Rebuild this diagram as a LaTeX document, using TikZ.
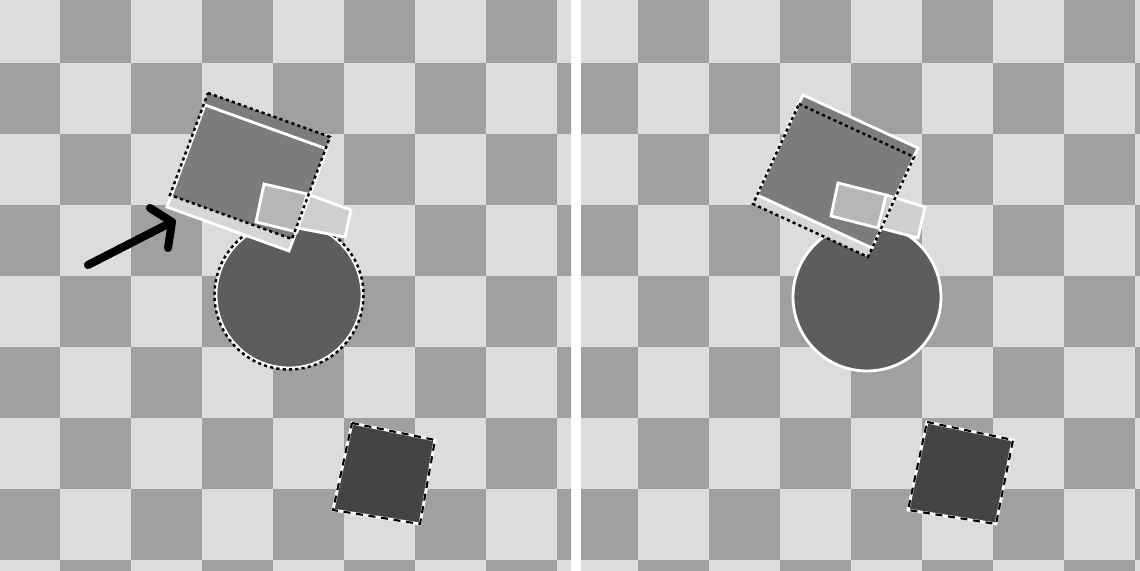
\documentclass[tikz,border=0pt]{standalone}
\usepackage{xcolor}
\usepackage{tikz}

\definecolor{lightsq}{HTML}{DCDCDC}
\definecolor{darksq}{HTML}{A0A0A0}
\definecolor{boxgray}{HTML}{7C7C7C}
\definecolor{ballgray}{HTML}{5D5D5D}
\definecolor{tilegray}{HTML}{444444}
\definecolor{patchgray}{HTML}{B6B6B6}
\definecolor{palegray}{HTML}{CFCFCF}
\definecolor{stripgray}{HTML}{D6D6D6}

\begin{document}
\begin{tikzpicture}[x=0.01cm, y=-0.01cm,
        wline/.style={draw=white, line width=0.8pt},
        bdots/.style={draw=black, line width=0.7pt, dash pattern=on 0.9pt off 0.9pt},
        bdash/.style={draw=black, line width=0.6pt, dash pattern=on 2pt off 1.6pt}]
        \useasboundingbox (0,0) rectangle (1140,571);
        \fill[white] (0,0) rectangle (1140,571);

        \begin{scope}
            \clip (0,0) rectangle (571,571);
            \fill[lightsq] (0,0) rectangle (571,571);
            \foreach \c in {0,...,8}
                \foreach \r in {0,...,8}{
                    \pgfmathtruncatemacro\odd{mod(\c+\r,2)}
                    \ifnum\odd=1
                        \fill[darksq] (-11+71*\c,-8+71*\r) rectangle ++(71,71);
                    \fi}
        \end{scope}
        \begin{scope}
            \clip (581,0) rectangle (1140,571);
            \fill[lightsq] (581,0) rectangle (1140,571);
            \foreach \c in {0,...,8}
                \foreach \r in {0,...,8}{
                    \pgfmathtruncatemacro\odd{mod(\c+\r,2)}
                    \ifnum\odd=1
                        \fill[darksq] (567+71*\c,-8+71*\r) rectangle ++(71,71);
                    \fi}
        \end{scope}

        \coordinate (ballL) at (289,295);
        \coordinate (a0) at (208,93);
        \coordinate (a1) at (330,137);
        \coordinate (a2) at (292,239);
        \coordinate (a3) at (170,195);
        \coordinate (b0) at (205,105);
        \coordinate (b1) at (327,149);
        \coordinate (b2) at (289,251);
        \coordinate (b3) at (167,207);
        \coordinate (q0) at (264,184);
        \coordinate (q1) at (307,194);
        \coordinate (q2) at (297,232);
        \coordinate (q3) at (256,222);
        \coordinate (p1) at (351,210);
        \coordinate (p2) at (345,237);
        \coordinate (p3) at (297,228);
        \coordinate (e0) at (352,423);
        \coordinate (e1) at (435,440);
        \coordinate (e2) at (420,524);
        \coordinate (e3) at (333,510);

        \fill[ballgray] (ballL) circle (73);
        \draw[wline] (ballL) circle (73);
        \draw[bdots] (ballL) circle (74.5);
        \draw[fill=stripgray, draw=none] (a3) -- (a2) -- (b2) -- (b3) -- cycle;
        \draw[fill=boxgray, draw=none] (a0) -- (a1) -- (a2) -- (a3) -- cycle;
        \draw[fill=patchgray, draw=none] (q0) -- (q1) -- (q2) -- (q3) -- cycle;
        \draw[fill=palegray, draw=none] (q1) -- (p1) -- (p2) -- (p3) -- cycle;
        \draw[wline] (b0) -- (b1) -- (b2) -- (b3) -- cycle;
        \draw[wline] (q0) -- (q1) -- (q2) -- (q3) -- cycle;
        \draw[wline] (q1) -- (p1) -- (p2) -- (p3);
        \draw[bdots] (a0) -- (a1) -- (a2) -- (a3) -- cycle;
        \draw[fill=tilegray, draw=none] (e0) -- (e1) -- (e2) -- (e3) -- cycle;
        \draw[wline] (e0) -- (e1) -- (e2) -- (e3) -- cycle;
        \draw[bdash] (e0) -- (e1) -- (e2) -- (e3) -- cycle;

        \coordinate (arr0) at (88,265);
        \coordinate (arr1) at (172,222);
        \coordinate (arr2) at (150,208);
        \coordinate (arr3) at (168,248);
        \draw[line width=2.3pt, line cap=round, line join=round] (arr0) -- (arr1);
        \draw[line width=2.3pt, line cap=round, line join=round] (arr2) -- (arr1) -- (arr3);

        \coordinate (ballR) at (867,297);
        \coordinate (c0) at (803,95);
        \coordinate (c1) at (918,148);
        \coordinate (c2) at (872,248);
        \coordinate (c3) at (757,195);
        \coordinate (d0) at (799,104);
        \coordinate (d1) at (914,157);
        \coordinate (d2) at (868,257);
        \coordinate (d3) at (753,204);
        \coordinate (r0) at (838,183);
        \coordinate (r1) at (886,195);
        \coordinate (r2) at (878,228);
        \coordinate (r3) at (831,216);
        \coordinate (s1) at (925,207);
        \coordinate (s2) at (918,238);
        \coordinate (s3) at (880,228);
        \coordinate (f0) at (927,422);
        \coordinate (f1) at (1013,440);
        \coordinate (f2) at (996,524);
        \coordinate (f3) at (908,510);

        \fill[ballgray] (ballR) circle (74);
        \draw[wline] (ballR) circle (74);
        \draw[fill=stripgray, draw=none] (c3) -- (c2) -- (d2) -- (d3) -- cycle;
        \draw[fill=boxgray, draw=none] (c0) -- (c1) -- (c2) -- (c3) -- cycle;
        \draw[fill=patchgray, draw=none] (r0) -- (r1) -- (r2) -- (r3) -- cycle;
        \draw[fill=palegray, draw=none] (r1) -- (s1) -- (s2) -- (s3) -- cycle;
        \draw[wline] (c0) -- (c1) -- (c2) -- (c3) -- cycle;
        \draw[wline] (r0) -- (r1) -- (r2) -- (r3) -- cycle;
        \draw[wline] (r1) -- (s1) -- (s2) -- (s3);
        \draw[bdots] (d0) -- (d1) -- (d2) -- (d3) -- cycle;
        \draw[fill=tilegray, draw=none] (f0) -- (f1) -- (f2) -- (f3) -- cycle;
        \draw[wline] (f0) -- (f1) -- (f2) -- (f3) -- cycle;
        \draw[bdash] (f0) -- (f1) -- (f2) -- (f3) -- cycle;
    \end{tikzpicture}
\end{document}
